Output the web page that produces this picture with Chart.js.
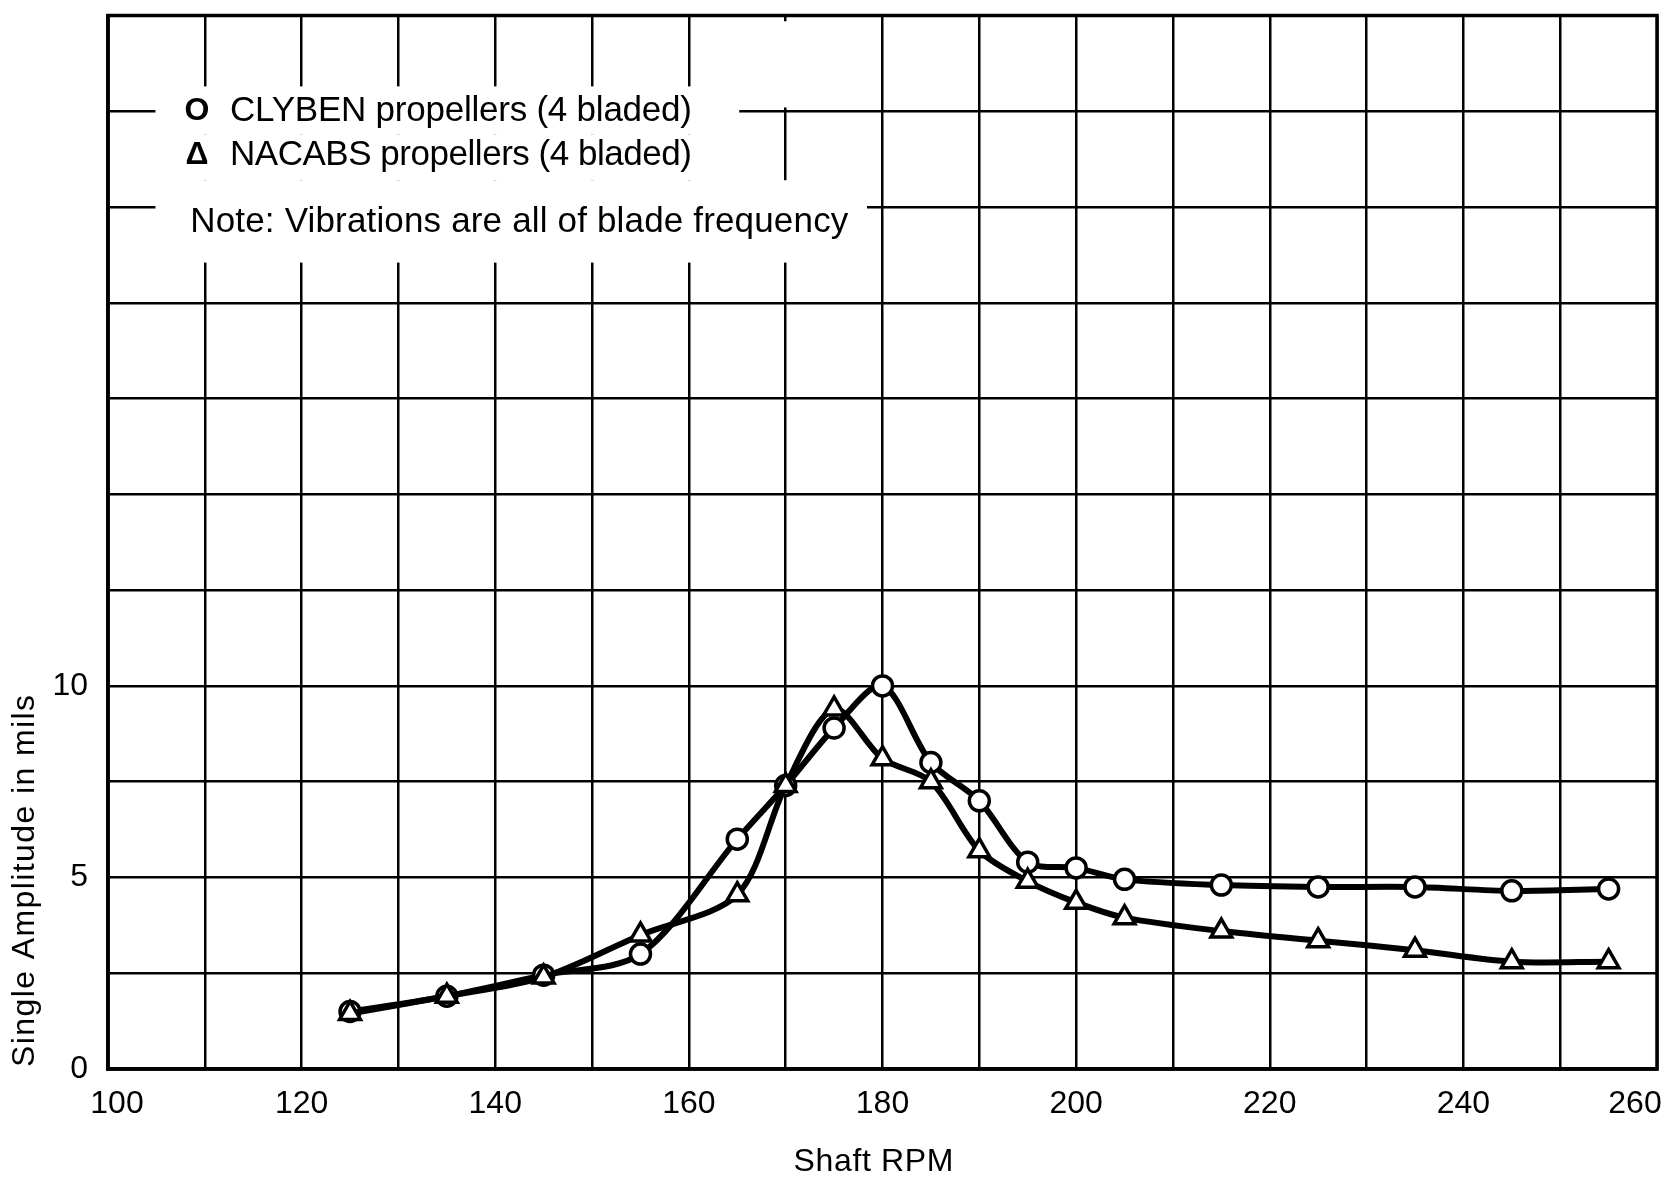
<!DOCTYPE html>
<html>
<head>
<meta charset="utf-8">
<title>Single Amplitude vs Shaft RPM</title>
<script src="https://cdn.jsdelivr.net/npm/chart.js@4/dist/chart.umd.min.js"></script>
<style>
  html, body { margin: 0; padding: 0; background: #fff; }
  #wrap { width: 1679px; height: 1179px; }
</style>
</head>
<body>
<div id="wrap"><canvas id="chart" width="1679" height="1179"></canvas></div>
<script>
// Values
const rpm = [125, 135, 145, 155, 165, 170, 175, 180, 185, 190, 195, 200, 205, 215, 225, 235, 245, 255];
const clybenAmp = [1.5, 1.9, 2.45, 3.0, 6.0, 7.4, 8.9, 10.0, 8.0, 7.0, 5.4, 5.25, 4.95, 4.8, 4.75, 4.75, 4.65, 4.7];
const nacabsAmp = [1.45, 1.9, 2.4, 3.5, 4.55, 7.4, 9.4, 8.1, 7.5, 5.7, 4.9, 4.35, 3.95, 3.6, 3.35, 3.1, 2.8, 2.8];

const xTickLabels = [100, 120, 140, 160, 180, 200, 220, 240, 260];
const yTickLabels = [0, 5, 10];
const xTitle = 'Shaft RPM';
const yTitle = 'Single Amplitude in mils';
const seriesNames = ['CLYBEN propellers (4 bladed)', 'NACABS propellers (4 bladed)'];
const seriesSymbols = ['O', '\u0394'];
const noteText = 'Note: Vibrations are all of blade frequency';

const FONT = "'Liberation Sans', Arial, sans-serif";

// draw text stretched to a given width with letter spacing
function fitText(ctx, text, x, y, width) {
  ctx.letterSpacing = '0px';
  const w = ctx.measureText(text).width;
  const sp = (width - w) / Math.max(1, text.length - 1);
  ctx.letterSpacing = sp + 'px';
  ctx.fillText(text, x, y);
  ctx.letterSpacing = '0px';
}

const paperPlugin = {
  id: 'paper',
  afterDraw(chart) {
    const { ctx, chartArea: a, scales: { x, y } } = chart;
    ctx.save();

    // white patches behind the legend text (in data units)
    ctx.fillStyle = '#fff';
    const patches = [
      [104.9, 165.2, 25.65, 24.4],
      [165.2, 171.2, 27.35, 25.1],
      [104.9, 169.4, 24.4, 23.2],
      [104.9, 178.4, 23.2, 21.05]
    ];
    patches.forEach(([x0, x1, y0, y1]) => {
      const px0 = x.getPixelForValue(x0), px1 = x.getPixelForValue(x1);
      const py0 = y.getPixelForValue(y0), py1 = y.getPixelForValue(y1);
      ctx.fillRect(px0, py0, px1 - px0, py1 - py0);
    });

    // frame
    ctx.strokeStyle = '#000';
    ctx.lineWidth = 3.5;
    ctx.strokeRect(a.left, a.top, a.right - a.left, a.bottom - a.top);

    ctx.fillStyle = '#000';

    // legend
    ctx.textBaseline = 'middle';
    const symX = x.getPixelForValue(109.2);
    const txtX = x.getPixelForValue(112.6);
    const rows = [25.0, 23.85];
    seriesNames.forEach((name, i) => {
      const py = y.getPixelForValue(rows[i]);
      ctx.font = 'bold 32px ' + FONT;
      ctx.textAlign = 'center';
      ctx.fillText(seriesSymbols[i], symX, py);
      ctx.font = '35px ' + FONT;
      ctx.textAlign = 'left';
      fitText(ctx, name, txtX, py, 462);
    });
    ctx.textAlign = 'left';
    ctx.font = '35px ' + FONT;
    fitText(ctx, noteText, x.getPixelForValue(108.5), y.getPixelForValue(22.1), 658);

    // x tick labels
    ctx.font = '32px ' + FONT;
    ctx.textAlign = 'center';
    ctx.textBaseline = 'middle';
    xTickLabels.forEach(v => {
      let px = x.getPixelForValue(v);
      px = Math.min(Math.max(px, a.left + 9), a.right - 22);
      ctx.fillText(String(v), px, a.bottom + 35);
    });

    // y tick labels
    ctx.textAlign = 'right';
    yTickLabels.forEach(v => {
      ctx.fillText(String(v), a.left - 20, y.getPixelForValue(v));
    });

    // axis titles
    ctx.font = '32px ' + FONT;
    ctx.textAlign = 'left';
    ctx.textBaseline = 'middle';
    fitText(ctx, xTitle, a.left + (a.right - a.left) / 2 - 9 - 80, a.bottom + 93, 160);

    ctx.save();
    ctx.translate(a.left - 74, a.bottom - 188);
    ctx.rotate(-Math.PI / 2);
    ctx.textBaseline = 'alphabetic';
    ctx.font = '32px ' + FONT;
    fitText(ctx, yTitle, -186, 0, 372);
    ctx.restore();

    ctx.restore();
  }
};

const ctx = document.getElementById('chart').getContext('2d');
new Chart(ctx, {
  type: 'line',
  data: {
    datasets: [
      {
        label: seriesNames[0],
        data: rpm.map((r, i) => ({ x: r, y: clybenAmp[i] })),
        borderColor: '#000',
        borderWidth: 6,
        pointStyle: 'circle',
        pointRadius: 10,
        pointBorderWidth: 3.5,
        pointBackgroundColor: '#fff',
        pointBorderColor: '#000',
        tension: 0.3,
        fill: false,
        order: 1
      },
      {
        label: seriesNames[1],
        data: rpm.map((r, i) => ({ x: r, y: nacabsAmp[i] })),
        borderColor: '#000',
        borderWidth: 6,
        pointStyle: 'triangle',
        pointRadius: 12,
        pointBorderWidth: 3.5,
        pointBackgroundColor: '#fff',
        pointBorderColor: '#000',
        tension: 0.3,
        fill: false,
        order: 0
      }
    ]
  },
  options: {
    responsive: false,
    animation: false,
    devicePixelRatio: 1,
    layout: { padding: { top: 14, right: 22, left: 0, bottom: 0 } },
    plugins: {
      legend: { display: false },
      tooltip: { enabled: false }
    },
    scales: {
      x: {
        type: 'linear',
        min: 100,
        max: 260,
        ticks: { display: false, stepSize: 10 },
        grid: { color: '#000', lineWidth: 2.5, drawTicks: false, tickLength: 0 },
        border: { color: '#000', width: 3.5 },
        afterFit(s) { s.height = 110; }
      },
      y: {
        min: 0,
        max: 27.5,
        ticks: { display: false, stepSize: 2.5 },
        grid: { color: '#000', lineWidth: 2.5, drawTicks: false, tickLength: 0 },
        border: { color: '#000', width: 3.5 },
        afterFit(s) { s.width = 108; }
      }
    }
  },
  plugins: [paperPlugin]
});
</script>
</body>
</html>
